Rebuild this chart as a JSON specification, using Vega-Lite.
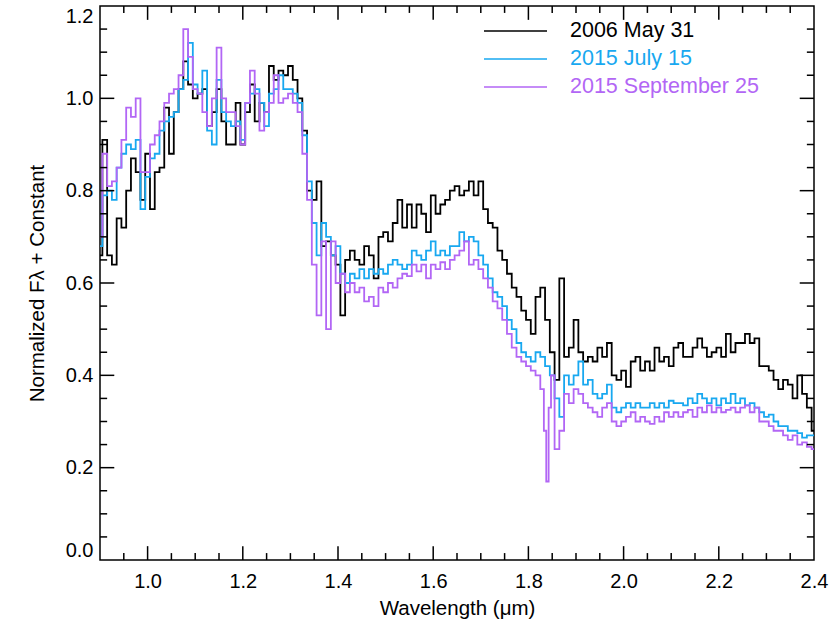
{
  "$schema": "https://vega.github.io/schema/vega-lite/v6.json",
  "width": 714,
  "height": 554,
  "autosize": {"type": "none"},
  "padding": {"left": 100, "top": 6, "right": 16, "bottom": 63},
  "config": {
    "view": {"stroke": "black", "strokeWidth": 1.5, "fill": null},
    "font": "Liberation Sans",
    "axis": {
      "grid": false,
      "domain": false,
      "ticks": false,
      "labelColor": "black",
      "labelFont": "Liberation Sans",
      "labelFontSize": 20,
      "labelOverlap": false,
      "titleFont": "Liberation Sans",
      "titleFontSize": 20.5,
      "titleFontWeight": "normal",
      "titleColor": "black"
    }
  },
  "datasets": {
    "xmaj": [{"v":1.0},{"v":1.2},{"v":1.4},{"v":1.6},{"v":1.8},{"v":2.0},{"v":2.2}],
    "xmin": [{"v":0.95},{"v":1.05},{"v":1.1},{"v":1.15},{"v":1.25},{"v":1.3},{"v":1.35},{"v":1.45},{"v":1.5},{"v":1.55},{"v":1.65},{"v":1.7},{"v":1.75},{"v":1.85},{"v":1.9},{"v":1.95},{"v":2.05},{"v":2.1},{"v":2.15},{"v":2.25},{"v":2.3},{"v":2.35}],
    "ymaj": [{"v":0.2},{"v":0.4},{"v":0.6},{"v":0.8},{"v":1.0}],
    "ymin": [{"v":0.05},{"v":0.1},{"v":0.15},{"v":0.25},{"v":0.3},{"v":0.35},{"v":0.45},{"v":0.5},{"v":0.55},{"v":0.65},{"v":0.7},{"v":0.75},{"v":0.85},{"v":0.9},{"v":0.95},{"v":1.05},{"v":1.1},{"v":1.15}],
    "a": [
      {"w":0.90,"f":0.66},{"w":0.91,"f":0.91},{"w":0.92,"f":0.66},{"w":0.93,"f":0.64},{"w":0.94,"f":0.74},{"w":0.95,"f":0.72},{"w":0.96,"f":0.80},{"w":0.97,"f":0.87},{"w":0.98,"f":0.84},{"w":0.99,"f":0.78},
      {"w":1.00,"f":0.88},{"w":1.01,"f":0.76},{"w":1.02,"f":0.84},{"w":1.03,"f":0.85},{"w":1.04,"f":0.98},{"w":1.05,"f":0.88},{"w":1.06,"f":0.97},{"w":1.07,"f":1.02},{"w":1.08,"f":1.08},{"w":1.09,"f":1.03},
      {"w":1.10,"f":1.00},{"w":1.11,"f":1.01},{"w":1.12,"f":1.02},{"w":1.13,"f":0.94},{"w":1.14,"f":0.97},{"w":1.15,"f":1.02},{"w":1.16,"f":0.95},{"w":1.17,"f":0.90},{"w":1.18,"f":0.90},{"w":1.19,"f":0.99},
      {"w":1.20,"f":0.90},{"w":1.21,"f":0.97},{"w":1.22,"f":1.03},{"w":1.23,"f":0.95},{"w":1.24,"f":0.99},{"w":1.25,"f":0.97},{"w":1.26,"f":1.07},{"w":1.27,"f":1.04},{"w":1.28,"f":1.06},{"w":1.29,"f":1.05},
      {"w":1.30,"f":1.07},{"w":1.31,"f":1.04},{"w":1.32,"f":1.00},{"w":1.33,"f":0.93},{"w":1.34,"f":0.80},{"w":1.35,"f":0.78},{"w":1.36,"f":0.82},{"w":1.37,"f":0.68},{"w":1.38,"f":0.69},{"w":1.39,"f":0.66},
      {"w":1.40,"f":0.64},{"w":1.41,"f":0.53},{"w":1.42,"f":0.65},{"w":1.43,"f":0.67},{"w":1.44,"f":0.65},{"w":1.45,"f":0.64},{"w":1.46,"f":0.68},{"w":1.47,"f":0.66},{"w":1.48,"f":0.61},{"w":1.49,"f":0.70},
      {"w":1.50,"f":0.71},{"w":1.51,"f":0.69},{"w":1.52,"f":0.73},{"w":1.53,"f":0.78},{"w":1.54,"f":0.72},{"w":1.55,"f":0.77},{"w":1.56,"f":0.72},{"w":1.57,"f":0.77},{"w":1.58,"f":0.75},{"w":1.59,"f":0.71},
      {"w":1.60,"f":0.79},{"w":1.61,"f":0.75},{"w":1.62,"f":0.77},{"w":1.63,"f":0.78},{"w":1.64,"f":0.80},{"w":1.65,"f":0.81},{"w":1.66,"f":0.79},{"w":1.67,"f":0.80},{"w":1.68,"f":0.82},{"w":1.69,"f":0.79},
      {"w":1.70,"f":0.82},{"w":1.71,"f":0.76},{"w":1.72,"f":0.73},{"w":1.73,"f":0.72},{"w":1.74,"f":0.67},{"w":1.75,"f":0.65},{"w":1.76,"f":0.62},{"w":1.77,"f":0.59},{"w":1.78,"f":0.57},{"w":1.79,"f":0.54},
      {"w":1.80,"f":0.52},{"w":1.81,"f":0.49},{"w":1.82,"f":0.57},{"w":1.83,"f":0.59},{"w":1.84,"f":0.52},{"w":1.85,"f":0.45},{"w":1.86,"f":0.39},{"w":1.87,"f":0.61},{"w":1.88,"f":0.44},{"w":1.89,"f":0.46},
      {"w":1.90,"f":0.52},{"w":1.91,"f":0.45},{"w":1.92,"f":0.43},{"w":1.93,"f":0.44},{"w":1.94,"f":0.43},{"w":1.95,"f":0.46},{"w":1.96,"f":0.44},{"w":1.97,"f":0.47},{"w":1.98,"f":0.40},{"w":1.99,"f":0.39},
      {"w":2.00,"f":0.41},{"w":2.01,"f":0.375},{"w":2.02,"f":0.43},{"w":2.03,"f":0.44},{"w":2.04,"f":0.41},{"w":2.05,"f":0.43},{"w":2.06,"f":0.41},{"w":2.07,"f":0.46},{"w":2.08,"f":0.43},{"w":2.09,"f":0.44},
      {"w":2.10,"f":0.42},{"w":2.11,"f":0.46},{"w":2.12,"f":0.47},{"w":2.13,"f":0.44},{"w":2.14,"f":0.44},{"w":2.15,"f":0.46},{"w":2.16,"f":0.48},{"w":2.17,"f":0.46},{"w":2.18,"f":0.44},{"w":2.19,"f":0.45},
      {"w":2.20,"f":0.46},{"w":2.21,"f":0.44},{"w":2.22,"f":0.49},{"w":2.23,"f":0.45},{"w":2.24,"f":0.47},{"w":2.25,"f":0.47},{"w":2.26,"f":0.49},{"w":2.27,"f":0.47},{"w":2.28,"f":0.48},{"w":2.29,"f":0.42},
      {"w":2.30,"f":0.42},{"w":2.31,"f":0.41},{"w":2.32,"f":0.39},{"w":2.33,"f":0.37},{"w":2.34,"f":0.39},{"w":2.35,"f":0.38},{"w":2.36,"f":0.35},{"w":2.37,"f":0.40},{"w":2.38,"f":0.36},{"w":2.39,"f":0.33},{"w":2.40,"f":0.28}
    ],
    "b": [
      {"w":0.90,"f":0.68},{"w":0.91,"f":0.79},{"w":0.92,"f":0.80},{"w":0.93,"f":0.78},{"w":0.94,"f":0.85},{"w":0.95,"f":0.88},{"w":0.96,"f":0.90},{"w":0.97,"f":0.89},{"w":0.98,"f":0.91},{"w":0.99,"f":0.76},
      {"w":1.00,"f":0.83},{"w":1.01,"f":0.87},{"w":1.02,"f":0.88},{"w":1.03,"f":0.93},{"w":1.04,"f":0.95},{"w":1.05,"f":0.96},{"w":1.06,"f":0.97},{"w":1.07,"f":1.02},{"w":1.08,"f":1.04},{"w":1.09,"f":1.12},
      {"w":1.10,"f":1.03},{"w":1.11,"f":1.01},{"w":1.12,"f":1.06},{"w":1.13,"f":0.93},{"w":1.14,"f":0.90},{"w":1.15,"f":1.04},{"w":1.16,"f":0.97},{"w":1.17,"f":0.95},{"w":1.18,"f":0.94},{"w":1.19,"f":0.95},
      {"w":1.20,"f":0.91},{"w":1.21,"f":0.99},{"w":1.22,"f":1.01},{"w":1.23,"f":1.02},{"w":1.24,"f":0.99},{"w":1.25,"f":0.94},{"w":1.26,"f":1.01},{"w":1.27,"f":1.02},{"w":1.28,"f":1.05},{"w":1.29,"f":1.02},
      {"w":1.30,"f":1.02},{"w":1.31,"f":1.01},{"w":1.32,"f":0.99},{"w":1.33,"f":0.92},{"w":1.34,"f":0.82},{"w":1.35,"f":0.73},{"w":1.36,"f":0.66},{"w":1.37,"f":0.73},{"w":1.38,"f":0.70},{"w":1.39,"f":0.66},
      {"w":1.40,"f":0.68},{"w":1.41,"f":0.62},{"w":1.42,"f":0.60},{"w":1.43,"f":0.62},{"w":1.44,"f":0.61},{"w":1.45,"f":0.63},{"w":1.46,"f":0.61},{"w":1.47,"f":0.63},{"w":1.48,"f":0.62},{"w":1.49,"f":0.63},
      {"w":1.50,"f":0.62},{"w":1.51,"f":0.64},{"w":1.52,"f":0.65},{"w":1.53,"f":0.64},{"w":1.54,"f":0.63},{"w":1.55,"f":0.64},{"w":1.56,"f":0.67},{"w":1.57,"f":0.66},{"w":1.58,"f":0.65},{"w":1.59,"f":0.67},
      {"w":1.60,"f":0.69},{"w":1.61,"f":0.66},{"w":1.62,"f":0.67},{"w":1.63,"f":0.66},{"w":1.64,"f":0.68},{"w":1.65,"f":0.68},{"w":1.66,"f":0.71},{"w":1.67,"f":0.69},{"w":1.68,"f":0.70},{"w":1.69,"f":0.69},
      {"w":1.70,"f":0.66},{"w":1.71,"f":0.64},{"w":1.72,"f":0.61},{"w":1.73,"f":0.58},{"w":1.74,"f":0.57},{"w":1.75,"f":0.55},{"w":1.76,"f":0.52},{"w":1.77,"f":0.50},{"w":1.78,"f":0.47},{"w":1.79,"f":0.45},
      {"w":1.80,"f":0.44},{"w":1.81,"f":0.43},{"w":1.82,"f":0.45},{"w":1.83,"f":0.44},{"w":1.84,"f":0.42},{"w":1.85,"f":0.40},{"w":1.86,"f":0.35},{"w":1.87,"f":0.31},{"w":1.88,"f":0.40},{"w":1.89,"f":0.38},
      {"w":1.90,"f":0.40},{"w":1.91,"f":0.43},{"w":1.92,"f":0.38},{"w":1.93,"f":0.39},{"w":1.94,"f":0.36},{"w":1.95,"f":0.35},{"w":1.96,"f":0.36},{"w":1.97,"f":0.38},{"w":1.98,"f":0.33},{"w":1.99,"f":0.32},
      {"w":2.00,"f":0.33},{"w":2.01,"f":0.34},{"w":2.02,"f":0.33},{"w":2.03,"f":0.34},{"w":2.04,"f":0.33},{"w":2.05,"f":0.33},{"w":2.06,"f":0.34},{"w":2.07,"f":0.33},{"w":2.08,"f":0.34},{"w":2.09,"f":0.33},
      {"w":2.10,"f":0.345},{"w":2.11,"f":0.34},{"w":2.12,"f":0.34},{"w":2.13,"f":0.335},{"w":2.14,"f":0.35},{"w":2.15,"f":0.34},{"w":2.16,"f":0.36},{"w":2.17,"f":0.35},{"w":2.18,"f":0.34},{"w":2.19,"f":0.35},
      {"w":2.20,"f":0.335},{"w":2.21,"f":0.35},{"w":2.22,"f":0.34},{"w":2.23,"f":0.36},{"w":2.24,"f":0.34},{"w":2.25,"f":0.35},{"w":2.26,"f":0.335},{"w":2.27,"f":0.34},{"w":2.28,"f":0.33},{"w":2.29,"f":0.32},
      {"w":2.30,"f":0.31},{"w":2.31,"f":0.315},{"w":2.32,"f":0.30},{"w":2.33,"f":0.29},{"w":2.34,"f":0.29},{"w":2.35,"f":0.28},{"w":2.36,"f":0.28},{"w":2.37,"f":0.275},{"w":2.38,"f":0.265},{"w":2.39,"f":0.27},{"w":2.40,"f":0.27}
    ],
    "c": [
      {"w":0.90,"f":0.70},{"w":0.91,"f":0.88},{"w":0.92,"f":0.81},{"w":0.93,"f":0.82},{"w":0.94,"f":0.85},{"w":0.95,"f":0.91},{"w":0.96,"f":0.98},{"w":0.97,"f":0.96},{"w":0.98,"f":1.00},{"w":0.99,"f":0.84},
      {"w":1.00,"f":0.84},{"w":1.01,"f":0.90},{"w":1.02,"f":0.92},{"w":1.03,"f":0.95},{"w":1.04,"f":0.99},{"w":1.05,"f":1.01},{"w":1.06,"f":1.02},{"w":1.07,"f":1.05},{"w":1.08,"f":1.15},{"w":1.09,"f":1.09},
      {"w":1.10,"f":1.02},{"w":1.11,"f":1.01},{"w":1.12,"f":0.97},{"w":1.13,"f":0.94},{"w":1.14,"f":1.00},{"w":1.15,"f":1.11},{"w":1.16,"f":1.00},{"w":1.17,"f":0.97},{"w":1.18,"f":0.97},{"w":1.19,"f":0.94},
      {"w":1.20,"f":0.90},{"w":1.21,"f":0.99},{"w":1.22,"f":1.06},{"w":1.23,"f":1.01},{"w":1.24,"f":0.93},{"w":1.25,"f":0.97},{"w":1.26,"f":0.99},{"w":1.27,"f":1.05},{"w":1.28,"f":0.99},{"w":1.29,"f":1.00},
      {"w":1.30,"f":1.01},{"w":1.31,"f":0.99},{"w":1.32,"f":0.97},{"w":1.33,"f":0.88},{"w":1.34,"f":0.78},{"w":1.35,"f":0.64},{"w":1.36,"f":0.53},{"w":1.37,"f":0.69},{"w":1.38,"f":0.50},{"w":1.39,"f":0.69},
      {"w":1.40,"f":0.60},{"w":1.41,"f":0.62},{"w":1.42,"f":0.58},{"w":1.43,"f":0.60},{"w":1.44,"f":0.58},{"w":1.45,"f":0.59},{"w":1.46,"f":0.56},{"w":1.47,"f":0.57},{"w":1.48,"f":0.55},{"w":1.49,"f":0.59},
      {"w":1.50,"f":0.58},{"w":1.51,"f":0.60},{"w":1.52,"f":0.59},{"w":1.53,"f":0.61},{"w":1.54,"f":0.62},{"w":1.55,"f":0.615},{"w":1.56,"f":0.64},{"w":1.57,"f":0.625},{"w":1.58,"f":0.64},{"w":1.59,"f":0.61},
      {"w":1.60,"f":0.64},{"w":1.61,"f":0.63},{"w":1.62,"f":0.645},{"w":1.63,"f":0.63},{"w":1.64,"f":0.65},{"w":1.65,"f":0.66},{"w":1.66,"f":0.67},{"w":1.67,"f":0.69},{"w":1.68,"f":0.64},{"w":1.69,"f":0.65},
      {"w":1.70,"f":0.63},{"w":1.71,"f":0.61},{"w":1.72,"f":0.59},{"w":1.73,"f":0.56},{"w":1.74,"f":0.545},{"w":1.75,"f":0.52},{"w":1.76,"f":0.49},{"w":1.77,"f":0.46},{"w":1.78,"f":0.44},{"w":1.79,"f":0.43},
      {"w":1.80,"f":0.42},{"w":1.81,"f":0.41},{"w":1.82,"f":0.40},{"w":1.83,"f":0.37},{"w":1.835,"f":0.28},{"w":1.84,"f":0.17},{"w":1.845,"f":0.33},{"w":1.85,"f":0.40},{"w":1.86,"f":0.24},{"w":1.87,"f":0.28},{"w":1.88,"f":0.36},{"w":1.89,"f":0.34},
      {"w":1.90,"f":0.37},{"w":1.91,"f":0.36},{"w":1.92,"f":0.34},{"w":1.93,"f":0.33},{"w":1.94,"f":0.32},{"w":1.95,"f":0.31},{"w":1.96,"f":0.33},{"w":1.97,"f":0.34},{"w":1.98,"f":0.30},{"w":1.99,"f":0.29},
      {"w":2.00,"f":0.30},{"w":2.01,"f":0.31},{"w":2.02,"f":0.32},{"w":2.03,"f":0.30},{"w":2.04,"f":0.31},{"w":2.05,"f":0.30},{"w":2.06,"f":0.295},{"w":2.07,"f":0.31},{"w":2.08,"f":0.30},{"w":2.09,"f":0.32},
      {"w":2.10,"f":0.31},{"w":2.11,"f":0.32},{"w":2.12,"f":0.31},{"w":2.13,"f":0.32},{"w":2.14,"f":0.325},{"w":2.15,"f":0.31},{"w":2.16,"f":0.33},{"w":2.17,"f":0.32},{"w":2.18,"f":0.335},{"w":2.19,"f":0.32},
      {"w":2.20,"f":0.33},{"w":2.21,"f":0.32},{"w":2.22,"f":0.325},{"w":2.23,"f":0.33},{"w":2.24,"f":0.32},{"w":2.25,"f":0.33},{"w":2.26,"f":0.335},{"w":2.27,"f":0.32},{"w":2.28,"f":0.33},{"w":2.29,"f":0.30},
      {"w":2.30,"f":0.30},{"w":2.31,"f":0.29},{"w":2.32,"f":0.28},{"w":2.33,"f":0.28},{"w":2.34,"f":0.27},{"w":2.35,"f":0.26},{"w":2.36,"f":0.27},{"w":2.37,"f":0.25},{"w":2.38,"f":0.255},{"w":2.39,"f":0.245},{"w":2.40,"f":0.24}
    ]
  },
  "layer": [
    {
      "data": {"name": "a"},
      "mark": {"type": "line", "interpolate": "step", "strokeWidth": 1.8, "clip": true},
      "encoding": {
        "x": {
          "field": "w", "type": "quantitative",
          "scale": {"domain": [0.9, 2.4], "nice": false, "zero": false},
          "axis": {
            "orient": "bottom",
            "title": "Wavelength (μm)",
            "values": [1.0, 1.2, 1.4, 1.6, 1.8, 2.0, 2.2, 2.4],
            "format": ".1f",
            "labelFlush": false,
            "labelBaseline": "top",
            "labelPadding": 11,
            "titlePadding": 7
          }
        },
        "y": {
          "field": "f", "type": "quantitative",
          "scale": {"domain": [0, 1.2], "nice": false, "zero": false},
          "axis": {
            "orient": "left",
            "title": "Normalized Fλ + Constant",
            "values": [0, 0.2, 0.4, 0.6, 0.8, 1.0, 1.2],
            "format": ".1f",
            "labelFlush": true,
            "labelAlign": "right",
            "labelPadding": 7,
            "titlePadding": 18
          }
        },
        "color": {
          "datum": "2006 May 31",
          "scale": {"domain": ["2006 May 31", "2015 July 15", "2015 September 25"], "range": ["#000000", "#18a8f0", "#b266f5"]},
          "legend": {
            "orient": "none",
            "legendX": 383,
            "legendY": 15,
            "title": null,
            "symbolType": "stroke",
            "symbolSize": 3969,
            "symbolStrokeWidth": 1.3,
            "clipHeight": 20,
            "labelFont": "Liberation Sans",
            "labelFontSize": 21.5,
            "labelOffset": 22,
            "labelLimit": 400,
            "rowPadding": 6,
            "encode": {"labels": {"update": {"fill": {"scale": "color", "field": "value"}}}}
          }
        }
      }
    },
    {
      "data": {"name": "b"},
      "mark": {"type": "line", "interpolate": "step", "strokeWidth": 1.8, "clip": true},
      "encoding": {
        "x": {"field": "w", "type": "quantitative"},
        "y": {"field": "f", "type": "quantitative"},
        "color": {"datum": "2015 July 15"}
      }
    },
    {
      "data": {"name": "c"},
      "mark": {"type": "line", "interpolate": "step", "strokeWidth": 1.8, "clip": true},
      "encoding": {
        "x": {"field": "w", "type": "quantitative"},
        "y": {"field": "f", "type": "quantitative"},
        "color": {"datum": "2015 September 25"}
      }
    },
    {
      "data": {"name": "xmaj"},
      "mark": {"type": "rule", "color": "black", "strokeWidth": 1.5},
      "encoding": {
        "x": {"field": "v", "type": "quantitative"},
        "y": {"datum": 0, "type": "quantitative"},
        "y2": {"datum": 0.03}
      }
    },
    {
      "data": {"name": "xmaj"},
      "mark": {"type": "rule", "color": "black", "strokeWidth": 1.5},
      "encoding": {
        "x": {"field": "v", "type": "quantitative"},
        "y": {"datum": 1.2, "type": "quantitative"},
        "y2": {"datum": 1.17}
      }
    },
    {
      "data": {"name": "xmin"},
      "mark": {"type": "rule", "color": "black", "strokeWidth": 1.5},
      "encoding": {
        "x": {"field": "v", "type": "quantitative"},
        "y": {"datum": 0, "type": "quantitative"},
        "y2": {"datum": 0.015}
      }
    },
    {
      "data": {"name": "xmin"},
      "mark": {"type": "rule", "color": "black", "strokeWidth": 1.5},
      "encoding": {
        "x": {"field": "v", "type": "quantitative"},
        "y": {"datum": 1.2, "type": "quantitative"},
        "y2": {"datum": 1.185}
      }
    },
    {
      "data": {"name": "ymaj"},
      "mark": {"type": "rule", "color": "black", "strokeWidth": 1.5},
      "encoding": {
        "y": {"field": "v", "type": "quantitative"},
        "x": {"datum": 0.9, "type": "quantitative"},
        "x2": {"datum": 0.93}
      }
    },
    {
      "data": {"name": "ymaj"},
      "mark": {"type": "rule", "color": "black", "strokeWidth": 1.5},
      "encoding": {
        "y": {"field": "v", "type": "quantitative"},
        "x": {"datum": 2.4, "type": "quantitative"},
        "x2": {"datum": 2.37}
      }
    },
    {
      "data": {"name": "ymin"},
      "mark": {"type": "rule", "color": "black", "strokeWidth": 1.5},
      "encoding": {
        "y": {"field": "v", "type": "quantitative"},
        "x": {"datum": 0.9, "type": "quantitative"},
        "x2": {"datum": 0.915}
      }
    },
    {
      "data": {"name": "ymin"},
      "mark": {"type": "rule", "color": "black", "strokeWidth": 1.5},
      "encoding": {
        "y": {"field": "v", "type": "quantitative"},
        "x": {"datum": 2.4, "type": "quantitative"},
        "x2": {"datum": 2.385}
      }
    }
  ]
}
